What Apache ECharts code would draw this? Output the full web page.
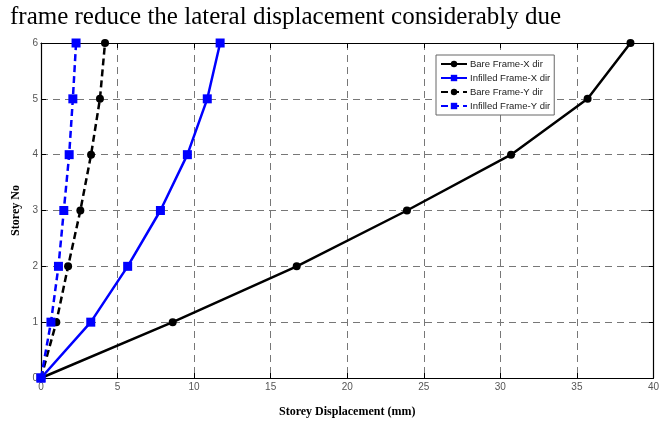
<!DOCTYPE html>
<html><head><meta charset="utf-8">
<script src="https://cdn.jsdelivr.net/npm/echarts@6/dist/echarts.min.js"></script>
<style>html,body{margin:0;padding:0;background:#fff}#c{width:662px;height:423px}</style>
</head><body><div id="c"></div>
<script>
const storeys = [0, 1, 2, 3, 4, 5, 6];
const bareX = [0, 8.6, 16.7, 23.9, 30.7, 35.7, 38.5];
const infilledX = [0, 3.25, 5.66, 7.8, 9.56, 10.86, 11.7];
const bareY = [0, 1.0, 1.77, 2.57, 3.27, 3.85, 4.18];
const infilledY = [0, 0.65, 1.14, 1.49, 1.84, 2.08, 2.29];
const seriesNames = ['Bare Frame-X dir', 'Infilled Frame-X dir', 'Bare Frame-Y dir', 'Infilled Frame-Y dir'];
const headline = 'frame reduce the lateral displacement considerably due';

function pts(xs) { return xs.map((x, i) => [x, storeys[i]]); }

const chart = echarts.init(document.getElementById('c'));
const tickLab = { color: '#555', fontSize: 10, fontFamily: 'Liberation Sans, Arial, sans-serif' };
const axLine = { show: true, onZero: false, lineStyle: { color: '#000', width: 1.2 } };
const split = { show: true, lineStyle: { color: '#777', type: [7, 5], width: 1 } };
const tick = { show: true, inside: true, length: 5, lineStyle: { color: '#000' } };

function mk(name, xs, color, dashed, symbol, size) {
  return {
    name, type: 'line', data: pts(xs), symbol, symbolSize: size,
    itemStyle: { color },
    lineStyle: { color, width: 2.5, type: dashed ? [7, 4] : 'solid' },
    emphasis: { disabled: true }, animation: false
  };
}

chart.setOption({
  animation: false,
  grid: { left: 41, right: 6, top: 43, bottom: 44 },
  graphic: [{
    type: 'text', left: 10, top: 5,
    style: { text: headline, font: '25px "Liberation Serif", "Times New Roman", serif', fill: '#000' }
  }],
  legend: {
    data: seriesNames, orient: 'vertical', left: 436, top: 55,
    backgroundColor: '#fff', borderColor: '#666', borderWidth: 1,
    padding: [4, 4, 4, 4], itemGap: 4, itemWidth: 26, itemHeight: 8,
    textStyle: { fontSize: 9.5, color: '#222', fontFamily: 'Liberation Sans, Arial, sans-serif', padding: [0, 0, 0, -2] }
  },
  xAxis: [{
    type: 'value', min: 0, max: 40, interval: 5,
    name: 'Storey Displacement (mm)', nameLocation: 'middle', nameGap: 28,
    nameTextStyle: { fontFamily: 'Liberation Serif, serif', fontWeight: 'bold', fontSize: 12, color: '#000' },
    axisLine: axLine, axisTick: tick, splitLine: split, axisLabel: Object.assign({ margin: 4 }, tickLab)
  }, {
    type: 'value', min: 0, max: 40, interval: 5, position: 'top',
    axisLine: axLine, axisTick: tick, splitLine: { show: false }, axisLabel: { show: false }
  }],
  yAxis: [{
    type: 'value', min: 0, max: 6, interval: 1,
    name: 'Storey No', nameLocation: 'middle', nameGap: 17,
    nameTextStyle: { fontFamily: 'Liberation Serif, serif', fontWeight: 'bold', fontSize: 12, color: '#000' },
    axisLine: axLine, axisTick: tick, splitLine: split, axisLabel: Object.assign({ margin: 3 }, tickLab)
  }, {
    type: 'value', min: 0, max: 6, interval: 1, position: 'right',
    axisLine: axLine, axisTick: tick, splitLine: { show: false }, axisLabel: { show: false }
  }],
  series: [
    mk(seriesNames[0], bareX, '#000', false, 'circle', 8),
    mk(seriesNames[1], infilledX, '#0000ff', false, 'rect', 9),
    mk(seriesNames[2], bareY, '#000', true, 'circle', 8),
    mk(seriesNames[3], infilledY, '#0000ff', true, 'rect', 9)
  ]
});
</script></body></html>
